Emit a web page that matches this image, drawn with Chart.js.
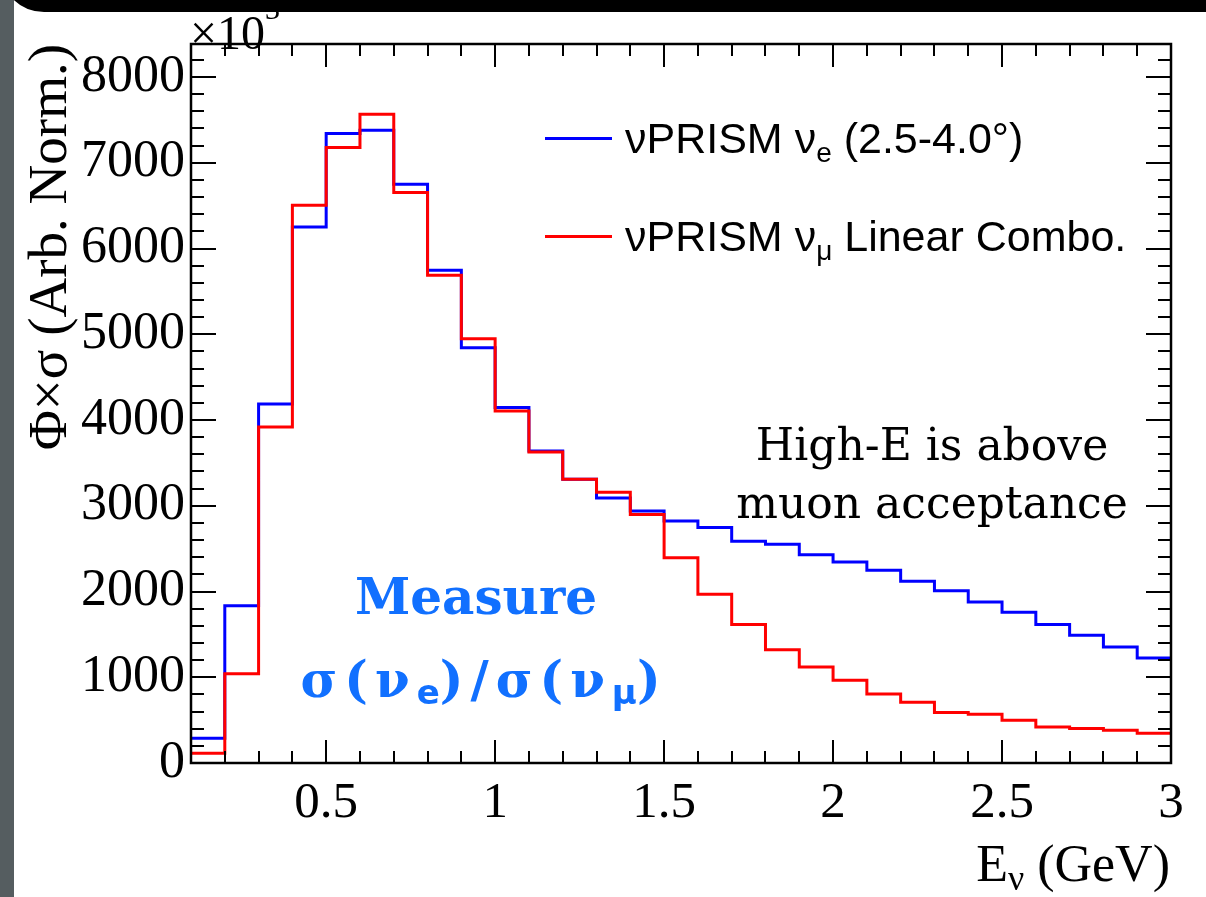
<!DOCTYPE html>
<html>
<head>
<meta charset="utf-8">
<script src="https://cdn.jsdelivr.net/npm/chart.js@4.4.1/dist/chart.umd.min.js"></script>
<style>
  html, body { margin: 0; padding: 0; }
  body { width: 1206px; height: 897px; position: relative; overflow: hidden;
         background: #555d60; }
  #panel { position: absolute; left: 14px; top: 0; width: 1192px; height: 897px; background: #fff; }
  #box { position: absolute; left: 0; top: 0; width: 1206px; height: 897px; }
  #frame { position: absolute; left: 0; top: -80px; width: 1400px; height: 92px; box-sizing: border-box;
           border: 12px solid #000; border-radius: 44px; z-index: 10; }
  .serif { font-family: 'Liberation Serif', 'Times New Roman', serif; color: #000; position: absolute; white-space: nowrap; }
  .leg { position: absolute; font-family: 'Liberation Sans', Arial, sans-serif; font-size: 43px; line-height: 43px; white-space: nowrap; }
  .leg sub { font-size: 28px; vertical-align: -9px; }
  .legline { position: absolute; height: 3px; width: 67px; }
  .note { position: absolute; font-family: 'DejaVu Serif', serif; font-size: 44px; line-height: 58px; text-align: center; white-space: nowrap; }
  .measure { position: absolute; font-family: 'DejaVu Serif', serif; font-weight: bold; color: #1170ff; text-align: center; white-space: nowrap; }
  .measure sub { font-family: 'DejaVu Sans', sans-serif; font-size: 34px; vertical-align: -7px; letter-spacing: 0; }
</style>
</head>
<body>
<div id="panel"></div>
<div id="box"><canvas id="histChart" width="1206" height="897"></canvas></div>
<div id="frame"></div>

<div class="serif" style="left:190px; top:-15px; font-size:48px; line-height:48px;">×10<sup style="font-size:30px; vertical-align:30px;">3</sup></div>
<div class="serif" style="right:36px; top:838px; font-size:52px; line-height:52px;">E<sub style="font-size:36px; vertical-align:-9px;">ν</sub> (GeV)</div>

<div class="legline" style="left:545px; top:137px; background:#0000ff;"></div>
<div class="leg" style="left:625px; top:117px;">νPRISM ν<sub>e</sub> (2.5-4.0°)</div>
<div class="legline" style="left:545px; top:235px; background:#ff0000;"></div>
<div class="leg" style="left:625px; top:215px;">νPRISM ν<sub>μ</sub> Linear Combo.</div>

<div class="note" style="left:722px; width:420px; top:416px;">High-E is above<br>muon acceptance</div>

<div class="measure" style="left:266px; width:420px; top:570px; font-size:50px; line-height:54px;">Measure</div>
<div class="measure" style="left:274px; width:420px; top:652px; font-size:50px; line-height:56px; letter-spacing:7px;">σ(ν<sub>e</sub>)/σ(ν<sub>μ</sub>)</div>

<script>
// bin low edges (GeV), 0.1 GeV wide bins
const binLow = [0.1, 0.2, 0.3, 0.4, 0.5, 0.6, 0.7, 0.8, 0.9, 1.0,
                1.1, 1.2, 1.3, 1.4, 1.5, 1.6, 1.7, 1.8, 1.9, 2.0,
                2.1, 2.2, 2.3, 2.4, 2.5, 2.6, 2.7, 2.8, 2.9];
const binHigh = 3.0;

// nuPRISM nu_e (2.5-4.0 deg), x10^3
const nueFlux = [288, 1835, 4187, 6251, 7340, 7379, 6749, 5746, 4844, 4145,
                 3639, 3308, 3091, 2939, 2822, 2745, 2585, 2550, 2430, 2344,
                 2247, 2119, 2010, 1878, 1757, 1614, 1489, 1353, 1225];

// nuPRISM nu_mu linear combination, x10^3
const numuCombo = [113, 1042, 3918, 6504, 7177, 7565, 6652, 5688, 4949, 4105,
                   3627, 3308, 3157, 2897, 2395, 1967, 1614, 1322, 1120, 964,
                   805, 708, 588, 568, 498, 420, 401, 381, 346];

const xLabelTicks = [0.5, 1, 1.5, 2, 2.5, 3];
const yLabelTicks = [0, 1000, 2000, 3000, 4000, 5000, 6000, 7000, 8000];

// histogram -> stepped points (left edges + closing edge)
function toSteps(vals) {
  const pts = binLow.map((x, i) => ({ x: x, y: vals[i] }));
  pts.push({ x: binHigh, y: vals[vals.length - 1] });
  return pts;
}

// ROOT style frame with inward ticks on all four sides
const rootFrame = {
  id: 'rootFrame',
  afterDraw(chart) {
    const { ctx, chartArea: a, scales: { x, y } } = chart;
    ctx.save();
    ctx.strokeStyle = '#000';
    ctx.lineWidth = 2;
    ctx.beginPath();
    for (let i = 2; i <= 29; i++) {
      const v = i / 10;
      const px = Math.round(x.getPixelForValue(v));
      const len = (i % 5 === 0) ? 23 : 12;
      ctx.moveTo(px, a.bottom); ctx.lineTo(px, a.bottom - len);
      ctx.moveTo(px, a.top); ctx.lineTo(px, a.top + len);
    }
    for (let v = 200; v <= y.max; v += 200) {
      const py = Math.round(y.getPixelForValue(v));
      const len = (v % 1000 === 0) ? 25 : 13;
      ctx.moveTo(a.left, py); ctx.lineTo(a.left + len, py);
      ctx.moveTo(a.right, py); ctx.lineTo(a.right - len, py);
    }
    ctx.stroke();
    ctx.lineWidth = 2.5;
    ctx.strokeRect(a.left, a.top, a.right - a.left, a.bottom - a.top);
    ctx.restore();
  }
};

const serif = "'Liberation Serif', 'Times New Roman', serif";

const ctx = document.getElementById('histChart').getContext('2d');
new Chart(ctx, {
  type: 'line',
  data: {
    datasets: [{
      label: 'νPRISM νμ Linear Combo.',
      data: toSteps(numuCombo),
      borderColor: '#ff0000',
      borderWidth: 3,
      stepped: 'before',
      pointRadius: 0,
      fill: false
    }, {
      label: 'νPRISM νe (2.5-4.0°)',
      data: toSteps(nueFlux),
      borderColor: '#0000ff',
      borderWidth: 3,
      stepped: 'before',
      pointRadius: 0,
      fill: false
    }]
  },
  options: {
    responsive: false,
    animation: false,
    devicePixelRatio: 1,
    layout: { padding: { top: 44, right: 35, left: 0, bottom: 0 } },
    plugins: { legend: { display: false }, tooltip: { enabled: false } },
    scales: {
      x: {
        type: 'linear',
        min: 0.1,
        max: 3.0,
        grid: { display: false, drawTicks: false },
        border: { display: false },
        afterBuildTicks: s => { s.ticks = xLabelTicks.map(v => ({ value: v })); },
        afterFit: s => { s.height = 134; },
        ticks: {
          color: '#000',
          padding: 10,
          maxRotation: 0,
          font: { family: serif, size: 51 },
          callback: v => String(v)
        }
      },
      y: {
        min: 0,
        max: 8385,
        grid: { display: false, drawTicks: false },
        border: { display: false },
        afterBuildTicks: s => { s.ticks = yLabelTicks.map(v => ({ value: v })); },
        afterFit: s => { s.width = 191; },
        ticks: {
          color: '#000',
          padding: 6,
          font: { family: serif, size: 52 },
          callback: v => String(v)
        },
        title: {
          display: true,
          text: 'Φ×σ (Arb. Norm.)',
          align: 'end',
          color: '#000',
          padding: { top: 19, bottom: 0 },
          font: { family: serif, size: 55 }
        }
      }
    }
  },
  plugins: [rootFrame]
});
</script>
</body>
</html>
